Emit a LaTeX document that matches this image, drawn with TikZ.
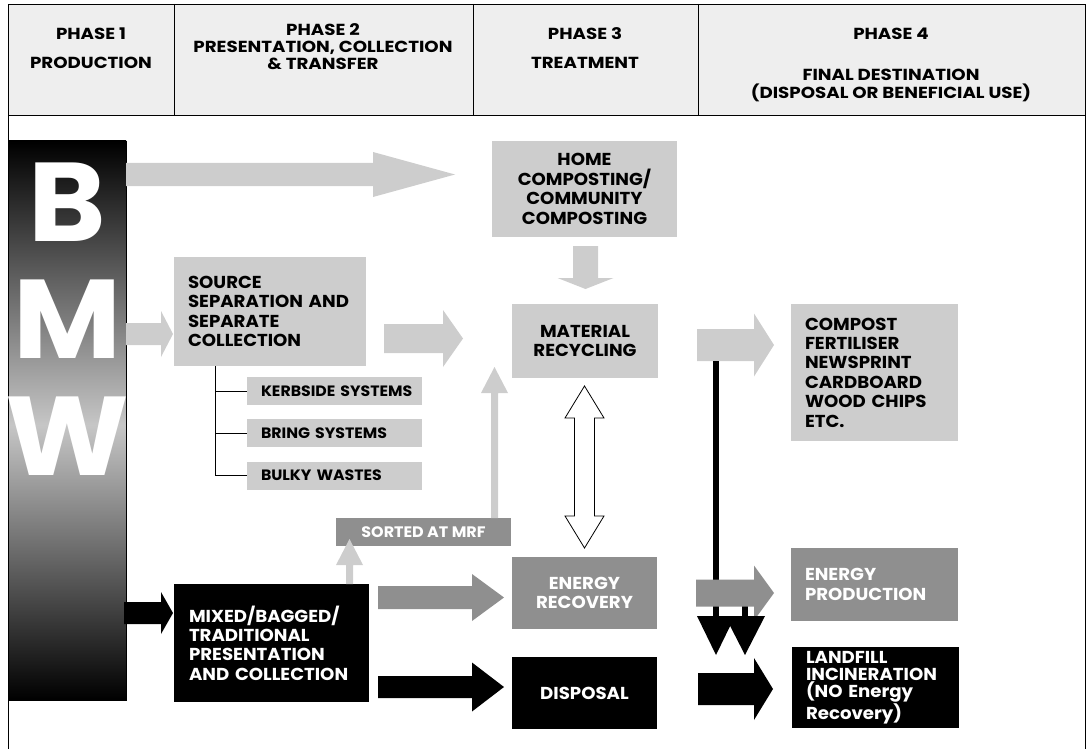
\documentclass[tikz,border=0pt]{standalone}
\usepackage{fontspec}
\setmainfont{Poppins}[FakeStretch=1.05]
\newfontfamily\hdrfont{Poppins}[FakeStretch=1.14]
\definecolor{lg}{HTML}{CDCDCD}
\definecolor{mg}{HTML}{8F8F8F}
\definecolor{hd}{HTML}{EEEEEE}
\definecolor{bmwmid}{HTML}{C6C6C6}
\newcommand\myharr[7]{\fill[#1] (#2,#5-#6) -- (#3,#5-#6) -- (#3,#5-#7) -- (#4,#5) -- (#3,#5+#7) -- (#3,#5+#6) -- (#2,#5+#6) -- cycle;}
\newcommand\myvarr[7]{\fill[#1] (#5-#6,#2) -- (#5-#6,#3) -- (#5-#7,#3) -- (#5,#4) -- (#5+#7,#3) -- (#5+#6,#3) -- (#5+#6,#2) -- cycle;}
\hyphenpenalty=10000
\exhyphenpenalty=10000
\tikzset{
  txt/.style={font=\bfseries\fontsize{17.3}{19.4}\selectfont, inner sep=0pt},
  cbox/.style={txt, rectangle, align=center},
  lbox/.style={txt, rectangle, align=left},
  smallbox/.style={lbox, fill=lg, minimum width=175, minimum height=28, text width=159, font=\bfseries\fontsize{15}{17}\selectfont},
  hdtxt/.style={font=\hdrfont\bfseries\fontsize{16}{18}\selectfont, inner sep=0pt, anchor=center},
  bigl/.style={font=\bfseries\fontsize{112}{112}\selectfont, text=white, inner sep=0pt}
}
\begin{document}
\begin{tikzpicture}[x=1pt,y=-1pt]
\useasboundingbox (0,0) rectangle (1087,749);
% frame and header
\fill[hd] (8,4) rectangle (1085,115);
\draw[line width=0.9pt] (8,749) -- (8,4) -- (1085,4) -- (1085,749);
\draw[line width=0.9pt] (8,115) -- (1085,115);
\draw[line width=0.9pt] (174,4) -- (174,115) (473,4) -- (473,115) (698,4) -- (698,115);
\node[hdtxt] (h1a) at (91,34) {PHASE 1};
\node[hdtxt] (h1b) at (91,63) {PRODUCTION};
\node[hdtxt] (h2a) at (323,30) {PHASE 2};
\node[hdtxt] (h2b) at (323,48) {PRESENTATION, COLLECTION};
\node[hdtxt] (h2c) at (323,64) {\& TRANSFER};
\node[hdtxt] (h3a) at (585,34) {PHASE 3};
\node[hdtxt] (h3b) at (585,63) {TREATMENT};
\node[hdtxt] (h4a) at (891,34) {PHASE 4};
\node[hdtxt] (h4b) at (891,75) {FINAL DESTINATION};
\node[hdtxt] (h4c) at (891,93) {(DISPOSAL OR BENEFICIAL USE)};
% BMW bar
\shade[top color=black, bottom color=bmwmid] (8,141) rectangle (126,425);
\shade[top color=bmwmid, bottom color=black] (8,425) rectangle (126,700);
\draw[line width=0.8pt] (8,141) rectangle (126,700);
\node[bigl] (B) at (67,202) {B};
\node[bigl] (M) at (67,319) {M};
\node[bigl] (W) at (67,436) {W};
% boxes
\node[cbox, fill=lg, minimum width=185, minimum height=96] (home) at (584.5,189) {HOME\\COMPOSTING/\\COMMUNITY\\COMPOSTING};
\node[cbox, fill=lg, minimum width=146, minimum height=74] (mat) at (585,341) {MATERIAL\\RECYCLING};
\node[lbox, fill=lg, minimum width=192, minimum height=109, text width=164] (src) at (270,311.5) {SOURCE\\SEPARATION AND\\SEPARATE\\COLLECTION};
\node[smallbox] (kerb) at (334.5,391) {\hspace*{6pt}KERBSIDE SYSTEMS};
\node[smallbox] (bring) at (334.5,433) {\hspace*{6pt}BRING SYSTEMS};
\node[smallbox] (bulky) at (334.5,475.5) {\hspace*{6pt}BULKY WASTES};
\node[lbox, fill=lg, minimum width=167, minimum height=137, text width=139] (comp) at (874.5,372.5) {COMPOST\\FERTILISER\\NEWSPRINT\\CARDBOARD\\WOOD CHIPS\\ETC.};
\node[lbox, fill=mg, text=white, minimum width=167, minimum height=73, text width=139] (eprod) at (874.5,584.5) {ENERGY\\PRODUCTION};
\node[cbox, fill=mg, text=white, minimum width=145, minimum height=72] (erec) at (584.5,593) {ENERGY\\RECOVERY};
\node[cbox, fill=mg, text=white, minimum width=175, minimum height=28, font=\bfseries\fontsize{15.2}{17}\selectfont] (sort) at (423.5,532) {SORTED AT MRF};
\node[lbox, fill=black, text=white, minimum width=195, minimum height=118, text width=165] (mix) at (271.5,643) {MIXED/BAGGED/\\TRADITIONAL\\PRESENTATION\\AND COLLECTION};
\node[cbox, fill=black, text=white, minimum width=145, minimum height=72] (disp) at (584.5,693) {DISPOSAL};
\node[lbox, fill=black, text=white, minimum width=167, minimum height=81, text width=139, font=\bfseries\fontsize{17.3}{17.3}\selectfont] (land) at (875.5,687.5) {LANDFILL\\INCINERATION\\(NO Energy\\Recovery)};
% tree
\coordinate (tr) at ([xshift=42pt]src.south west);
\draw[line width=0.8pt] (tr) |- (bulky.west);
\draw[line width=0.8pt] (tr |- kerb.west) -- (kerb.west);
\draw[line width=0.8pt] (tr |- bring.west) -- (bring.west);
% light arrows
\myharr{lg}{126}{373}{455}{174.5}{11.5}{22.5}
\myharr{lg}{126}{161}{173}{334}{11}{23}
\myharr{lg}{384}{443}{463}{338.5}{14.5}{28.5}
\myvarr{lg}{246}{278}{289}{585.5}{12.5}{28}
\myharr{lg}{697}{754}{774}{345}{16}{31.5}
\myvarr{lg}{518}{393}{367}{494.5}{3.5}{13.5}
\myvarr{lg}{584}{565}{539}{349.5}{3.5}{13.5}
% dark arrows
\myharr{black}{124}{161}{173}{613}{11}{21}
\myharr{mg}{378}{472}{504}{597.5}{11.5}{23.5}
\myharr{black}{378}{472}{504}{687}{11}{24.5}
\myharr{black}{698}{754}{773}{689}{16}{31}
% black lines to landfill
\fill[black] (713,361) rectangle (719,617);
\fill[black] (742,590) rectangle (748,617);
\myharr{mg}{696}{754}{774}{593}{13.5}{27.5}
\fill[black] (697,616) -- (735,616) -- (716,655) -- cycle;
\fill[black] (725,616) -- (765,616) -- (745,655) -- cycle;
% double arrow
\filldraw[fill=white, draw=black, line width=0.8pt] (584.5,386) -- (604,418) -- (594.5,418) -- (594.5,516) -- (604,516) -- (584.5,548) -- (565,516) -- (574.5,516) -- (574.5,418) -- (565,418) -- cycle;
\end{tikzpicture}
\end{document}
